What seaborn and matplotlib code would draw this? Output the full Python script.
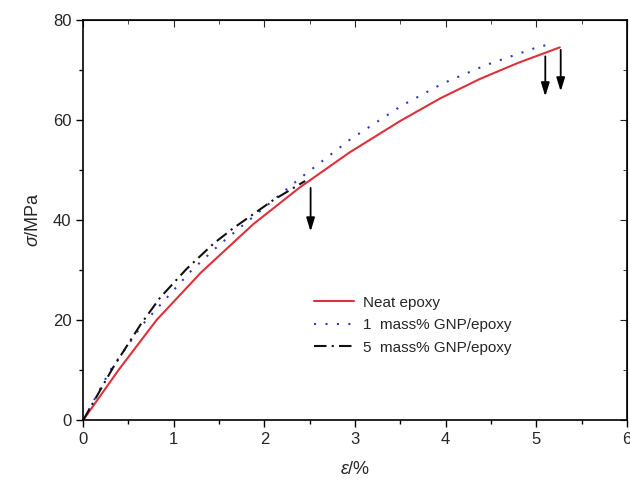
import numpy as np
import pandas as pd
import matplotlib
matplotlib.use("Agg")
import matplotlib.pyplot as plt
import seaborn as sns

# strain (%) / stress (MPa)
neat_x = [0, 0.39, 0.81, 1.3, 1.88, 2.39, 2.94, 3.5, 3.94, 4.38, 4.8, 5.26]
neat_y = [0, 10, 20, 29.5, 39.2, 46.5, 53.5, 59.8, 64.3, 68.2, 71.4, 74.5]

gnp1_x = [0, 0.3, 0.65, 1.0, 1.2, 1.5, 1.9, 2.37, 2.94, 3.51, 3.97, 4.45, 5.04, 5.13]
gnp1_y = [0, 10, 19, 26, 30, 35, 41, 48.0, 56.0, 62.8, 67.3, 71.0, 74.7, 75.0]

gnp5_x = [0, 0.33, 0.63, 0.85, 1.14, 1.44, 1.66, 1.88, 2.1, 2.45]
gnp5_y = [0, 10.5, 19, 24.5, 30.2, 35.3, 38.4, 41.2, 44.0, 47.8]

labels = ["Neat epoxy", "1  mass% GNP/epoxy", "5  mass% GNP/epoxy"]

# fracture arrows: x, y start, y end
arrow_x = [2.51, 5.10, 5.27]
arrow_y0 = [46.4, 72.7, 74.0]
arrow_y1 = [37.7, 64.7, 65.7]

df = pd.concat([
    pd.DataFrame({"x": neat_x, "y": neat_y, "s": labels[0]}),
    pd.DataFrame({"x": gnp1_x, "y": gnp1_y, "s": labels[1]}),
    pd.DataFrame({"x": gnp5_x, "y": gnp5_y, "s": labels[2]}),
], ignore_index=True)

sns.set_style("ticks")
plt.rcParams["font.family"] = ["Liberation Sans", "DejaVu Sans"]
plt.rcParams["mathtext.fontset"] = "custom"
plt.rcParams["mathtext.rm"] = "Liberation Sans"
plt.rcParams["mathtext.it"] = "Liberation Sans:italic"

fig = plt.figure(figsize=(6.3, 4.84), dpi=100)
ax = fig.add_axes([0.132, 0.132, 0.863, 0.827])

palette = {labels[0]: "#e0303a", labels[1]: "#3636c8", labels[2]: "#111111"}
sns.lineplot(data=df, x="x", y="y", hue="s", palette=palette, sort=False,
             estimator=None, ax=ax, linewidth=1.5, legend=False)

styles = ["-", (0, (1, 4.5)), (0, (6, 2.5, 1, 2.5))]
for line, ls in zip(ax.get_lines(), styles):
    line.set_linestyle(ls)

for x, y0, y1 in zip(arrow_x, arrow_y0, arrow_y1):
    ax.annotate("", xy=(x, y1), xytext=(x, y0),
                arrowprops=dict(arrowstyle="-|>,head_width=0.28,head_length=0.9",
                                color="black", lw=1.3,
                                mutation_scale=9, shrinkA=0, shrinkB=0))

ax.set_xlim(0, 6)
ax.set_ylim(0, 80)
ax.set_xticks(np.arange(0, 7, 1))
ax.set_yticks(np.arange(0, 81, 20))
ax.set_xticks(np.arange(0.5, 6, 1), minor=True)
ax.set_yticks(np.arange(10, 80, 20), minor=True)
ax.tick_params(axis="both", which="both", labelsize=12, width=1, color="black")
ax.tick_params(axis="both", which="major", length=5)
ax.tick_params(axis="both", which="minor", length=3)
for s in ax.spines.values():
    s.set_linewidth(1.2)
    s.set_color("black")

# mirrored inward ticks on top/right
axt = ax.secondary_xaxis("top")
axt.set_xticks(np.arange(0, 7, 1))
axt.set_xticks(np.arange(0.5, 6, 1), minor=True)
axt.tick_params(which="both", direction="in", labeltop=False)
axt.tick_params(which="major", length=5)
axt.tick_params(which="minor", length=3)
axr = ax.secondary_yaxis("right")
axr.set_yticks(np.arange(0, 81, 20))
axr.set_yticks(np.arange(10, 80, 20), minor=True)
axr.tick_params(which="both", direction="in", labelright=False)
axr.tick_params(which="major", length=5)
axr.tick_params(which="minor", length=3)

ax.set_xlabel(r"$\varepsilon$/%", fontsize=13, labelpad=10)
ax.set_ylabel(r"$\sigma$/MPa", fontsize=13, labelpad=8)

handles = ax.get_lines()[:3]
ax.legend(handles, labels, loc="upper left", bbox_to_anchor=(0.4, 0.345),
          frameon=False, fontsize=11, handlelength=2.6, labelspacing=0.55,
          handletextpad=0.6)

fig.savefig("out.png", dpi=100)
